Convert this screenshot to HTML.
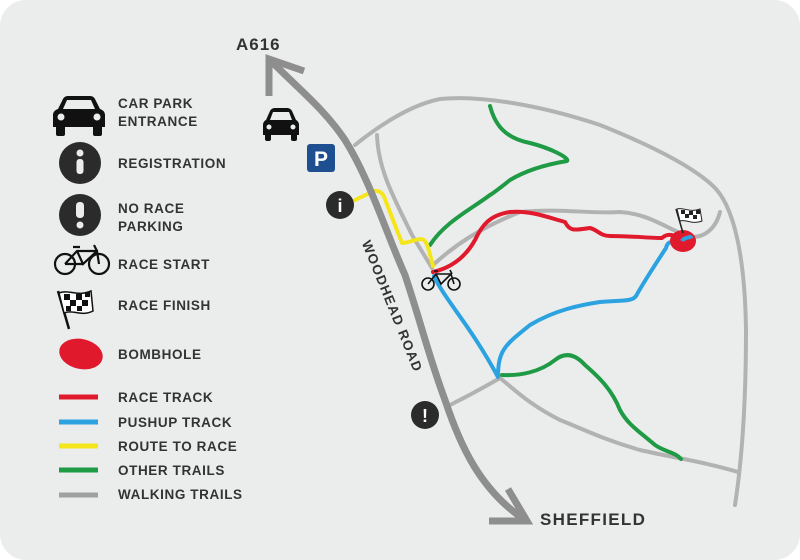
<!DOCTYPE html>
<html><head><meta charset="utf-8"><style>
html,body{margin:0;padding:0;background:#fff;}
body{width:800px;height:560px;overflow:hidden;}
svg{display:block;}
text{font-family:"Liberation Sans",sans-serif;font-weight:bold;fill:#333;}
</style></head><body>
<svg width="800" height="560" viewBox="0 0 800 560">
<rect x="0" y="0" width="800" height="560" rx="26" fill="#ebeded"/>
<g fill="none" stroke-linecap="round" stroke-linejoin="round">
<g stroke="#b2b2b2" stroke-width="4">
<path d="M355,145 C380,125 410,105 440,99 C480,95 540,105 600,125 C650,145 690,165 712,185 C735,205 745,260 746,330 C746,400 742,460 735,505"/>
<path d="M377,135 C378,170 395,200 412,235 L432,268"/>
<path d="M433,265 C455,245 480,228 520,212 C560,208 590,214 620,212 C650,214 665,228 690,237 C705,238 716,228 720,212"/>
<path d="M450,405 C470,395 488,385 500,378 C515,390 530,405 560,420 C585,430 605,440 640,450 C675,458 705,462 738,472"/>
</g>
<g stroke="#1f9a45" stroke-width="4">
<path d="M490,106 C495,125 505,138 530,143 C550,148 570,158 567,161 C555,163 530,168 510,180 C500,188 495,192 490,195 C470,210 445,222 430,245"/>
<path d="M502,375 C520,376 540,372 555,360 C565,352 575,354 585,365 C600,378 612,390 620,410 C628,425 640,432 655,445 C665,452 675,452 681,459"/>
</g>
<path stroke="#e0192c" stroke-width="4" d="M433,272 C450,268 465,258 475,240 C482,225 490,215 510,212 C530,210 550,218 565,222 C570,232 575,230 590,228 C598,230 600,236 610,236 C630,236 650,238 662,238 C668,232 675,236 682,238"/>
<path stroke="#2ca3e0" stroke-width="4" d="M434,276 C445,300 470,325 498,377 C498,350 505,345 530,325 C555,310 580,305 600,302 C620,300 632,302 636,296 C645,280 655,265 666,248 C668,240 672,242 682,242 C688,242 690,238 690,236"/>
<path stroke="#f5e61c" stroke-width="4" d="M355,200 L374,191 C381,190 384,195 386,202 L402,243 C410,243 418,237 424,240 C428,244 430,255 433,266"/>
<path stroke="#8e8e8e" stroke-width="7" d="M272,62 C300,90 325,110 345,140 C370,180 385,230 405,275 C420,320 430,360 445,400 C460,445 480,490 525,520"/>
<path stroke="#8e8e8e" stroke-width="7" stroke-linecap="butt" stroke-linejoin="miter" d="M269,96 L269,59 L304,71"/>
<path stroke="#8e8e8e" stroke-width="7" stroke-linecap="butt" stroke-linejoin="miter" d="M508,489 L527,521 L489,521"/>
</g>
<ellipse cx="683" cy="241" rx="13" ry="11" fill="#e0192c"/>
<path d="M682,241 C684,237 690,238 692,236" stroke="#2ca3e0" stroke-width="4" fill="none"/>
<g transform="translate(676,207)">
<line x1="0" y1="2" x2="7" y2="26" stroke="#222" stroke-width="1.5"/>
<path d="M1,2 C8,0 14,6 24,2 L26,14 C16,18 10,12 4,14 Z" fill="#fff" stroke="#222" stroke-width="1"/>
<rect x="5" y="3" width="4" height="4" fill="#222"/><rect x="13" y="4" width="4" height="4" fill="#222"/><rect x="9" y="7" width="4" height="4" fill="#222"/><rect x="17" y="8" width="4" height="4" fill="#222"/><rect x="20" y="3" width="4" height="4" fill="#222"/>
</g>
<g transform="translate(421,268)" fill="none" stroke="#111" stroke-width="1.6">
<circle cx="7" cy="16" r="6"/><circle cx="33" cy="16" r="6"/>
<path d="M7,16 L15,6 L30,6 L33,16 M15,6 L20,16 L30,6 M13,3 L17,3 M29,2 L31,6"/>
</g>
<rect x="307" y="144" width="28" height="28" rx="3" fill="#1d4f91"/>
<text x="321" y="166" font-size="21" text-anchor="middle" style="fill:#fff">P</text>
<circle cx="340" cy="205" r="14" fill="#2b2b2b"/>
<text x="340" y="212" font-size="18" text-anchor="middle" style="fill:#fff">i</text>
<circle cx="425" cy="415" r="14" fill="#2b2b2b"/>
<text x="425" y="422" font-size="18" text-anchor="middle" style="fill:#fff">!</text>
<g transform="translate(262,108)">
<path d="M4,12 L8,3 C9,1 11,0 13,0 L25,0 C27,0 29,1 30,3 L34,12 C36,13 37,15 37,17 L37,27 L1,27 L1,17 C1,15 2,13 4,12 Z" fill="#111"/>
<path d="M8,12 L11,4 L27,4 L30,12 Z" fill="#ebeded"/>
<rect x="3" y="25" width="6" height="8" rx="2" fill="#111"/><rect x="29" y="25" width="6" height="8" rx="2" fill="#111"/>
<circle cx="7" cy="19" r="2.5" fill="#ebeded"/><circle cx="31" cy="19" r="2.5" fill="#ebeded"/>
</g>
<text x="236" y="50" font-size="17" letter-spacing="1">A616</text>
<text x="540" y="525" font-size="17" letter-spacing="1.3">SHEFFIELD</text>
<text transform="translate(388,308) rotate(68)" font-size="13.5" letter-spacing="1.2" text-anchor="middle">WOODHEAD ROAD</text>
<g transform="translate(53,95)">
<path d="M5,14 L10,4 C11,2 13,1 15,1 L37,1 C39,1 41,2 42,4 L47,14 C50,15 52,17 52,20 L52,32 L0,32 L0,20 C0,17 2,15 5,14 Z" fill="#111"/>
<path d="M10,14 L14,5 L38,5 L42,14 Z" fill="#ebeded"/>
<rect x="3" y="30" width="9" height="11" rx="2" fill="#111"/><rect x="40" y="30" width="9" height="11" rx="2" fill="#111"/>
<circle cx="8" cy="22" r="3.5" fill="#ebeded"/><circle cx="44" cy="22" r="3.5" fill="#ebeded"/>
</g>
<circle cx="80" cy="163" r="21" fill="#2b2b2b"/>
<circle cx="80" cy="153" r="3.5" fill="#ebeded"/><rect x="76.5" y="159" width="7" height="15" rx="3" fill="#ebeded"/>
<circle cx="80" cy="215" r="21" fill="#2b2b2b"/>
<rect x="76" y="202" width="8" height="16" rx="3.5" fill="#ebeded"/><circle cx="80" cy="225" r="3.5" fill="#ebeded"/>
<g transform="translate(53,244)" fill="none" stroke="#111" stroke-width="2.2">
<circle cx="12" cy="20" r="10"/><circle cx="46" cy="20" r="10"/>
<path d="M12,20 L24,7 L44,7 L46,20 M24,7 L30,20 L44,7 M20,3 L27,3 M41,1 L44,7 M12,20 L30,20"/>
</g>
<g transform="translate(55,289)">
<line x1="3" y1="2" x2="14" y2="40" stroke="#111" stroke-width="2.5"/>
<path d="M4,4 C14,0 22,8 36,2 L38,22 C26,28 18,20 9,24 Z" fill="#fff" stroke="#111" stroke-width="1.5"/>
<rect x="9" y="5" width="6" height="6" fill="#111"/><rect x="21" y="5" width="6" height="6" fill="#111"/><rect x="15" y="11" width="6" height="6" fill="#111"/><rect x="27" y="11" width="6" height="6" fill="#111"/><rect x="11" y="17" width="5" height="5" fill="#111"/><rect x="22" y="17" width="5" height="5" fill="#111"/><rect x="30" y="3" width="5" height="5" fill="#111"/>
</g>
<ellipse cx="81" cy="354" rx="22" ry="15" transform="rotate(12 81 354)" fill="#e0192c"/>
<g font-size="13.5" letter-spacing="0.6">
<text x="118" y="108">CAR PARK</text>
<text x="118" y="126">ENTRANCE</text>
<text x="118" y="168">REGISTRATION</text>
<text x="118" y="213">NO RACE</text>
<text x="118" y="231">PARKING</text>
<text x="118" y="269">RACE START</text>
<text x="118" y="310">RACE FINISH</text>
<text x="118" y="359">BOMBHOLE</text>
<text x="118" y="402">RACE TRACK</text>
<text x="118" y="427">PUSHUP TRACK</text>
<text x="118" y="451">ROUTE TO RACE</text>
<text x="118" y="475">OTHER TRAILS</text>
<text x="118" y="499">WALKING TRAILS</text>
</g>
<g stroke-width="5">
<line x1="59" y1="397" x2="98" y2="397" stroke="#e0192c"/>
<line x1="59" y1="422" x2="98" y2="422" stroke="#2ca3e0"/>
<line x1="59" y1="446" x2="98" y2="446" stroke="#f5e61c"/>
<line x1="59" y1="470" x2="98" y2="470" stroke="#1f9a45"/>
<line x1="59" y1="495" x2="98" y2="495" stroke="#a0a0a0"/>
</g>
</svg>
</body></html>
